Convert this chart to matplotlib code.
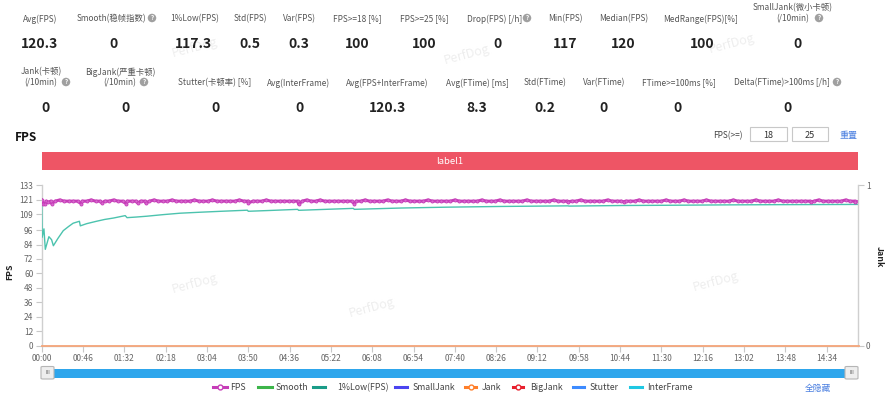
import numpy as np
import matplotlib
matplotlib.use('Agg')
import matplotlib.pyplot as plt
from matplotlib.patches import Rectangle, FancyBboxPatch
from matplotlib.lines import Line2D

plt.rcParams['font.family'] = ['Noto Sans CJK SC', 'DejaVu Sans']

# ---------------- data ----------------
row1_labels = ['Avg(FPS)', 'Smooth(稳帧指数)', '1%Low(FPS)', 'Std(FPS)', 'Var(FPS)',
               'FPS>=18 [%]', 'FPS>=25 [%]', 'Drop(FPS) [/h]', 'Min(FPS)', 'Median(FPS)',
               'MedRange(FPS)[%]', 'SmallJank(微小卡顿)\n(/10min)']
row1_values = ['120.3', '0', '117.3', '0.5', '0.3', '100', '100', '0', '117', '120', '100', '0']
row2_labels = ['Jank(卡顿)\n(/10min)', 'BigJank(严重卡顿)\n(/10min)', 'Stutter(卡顿率) [%]',
               'Avg(InterFrame)', 'Avg(FPS+InterFrame)', 'Avg(FTime) [ms]', 'Std(FTime)',
               'Var(FTime)', 'FTime>=100ms [%]', 'Delta(FTime)>100ms [/h]']
row2_values = ['0', '0', '0', '0', '120.3', '8.3', '0.2', '0', '0', '0']

# FPS base samples every 5 s (seconds)
fps_base_times = np.arange(0, 911, 5)
fps_base_values = [
    121, 120, 120, 120, 121, 120, 120, 120, 120, 120, 120, 121, 120, 120, 120, 120, 121, 120, 120, 120,
    120, 120, 120, 120, 120, 121, 120, 120, 120, 121, 120, 120, 120, 120, 121, 120, 120, 120, 121, 120,
    120, 120, 120, 120, 121, 120, 120, 120, 120, 120, 121, 120, 120, 120, 120, 120, 120, 120, 120, 121,
    120, 120, 121, 120, 120, 120, 120, 120, 120, 120, 120, 120, 121, 120, 120, 120, 120, 121, 120, 120,
    120, 121, 120, 120, 120, 120, 121, 120, 120, 120, 120, 120, 121, 120, 120, 120, 120, 120, 121, 120,
    120, 120, 121, 120, 120, 120, 120, 120, 121, 120, 120, 120, 120, 120, 121, 120, 120, 120, 120, 120,
    121, 120, 120, 120, 120, 120, 121, 120, 120, 120, 120, 120, 120, 121, 120, 120, 120, 120, 120, 121,
    120, 120, 120, 121, 120, 120, 120, 120, 121, 120, 120, 120, 120, 120, 121, 120, 120, 120, 120, 121,
    120, 120, 120, 120, 121, 120, 120, 120, 120, 120, 120, 120, 120, 121, 120, 120, 120, 120, 120, 121,
    120, 120, 120,
]
# short FPS dips (seconds, fps)
fps_dip_times = [2, 4, 7, 11, 44, 67, 94, 107, 116, 230, 286, 348, 586, 648, 857, 906]
fps_dip_values = [117.5, 118, 119, 118, 118, 118.5, 118, 118.5, 118.5, 118.5, 117.5, 118,
                  119.5, 119.5, 119.5, 119]

low_times = [0, 0.5, 2.5, 4, 8, 11, 13, 18, 24, 30, 35, 42, 43, 50, 61, 70, 80, 93, 95, 105,
             117, 135, 154, 176, 200, 229, 230, 255, 285, 286, 320, 347, 348, 400, 450, 511,
             586, 587, 648, 700, 760, 820, 870, 910]
low_values = [120.5, 90, 97, 80, 90.5, 88, 83, 89, 95.5, 99, 101.7, 103.3, 99.5, 101.3, 103.3, 104.8,
              106, 108, 106.3, 106.8, 107.5, 108.8, 110, 110.8, 111.6, 112.5, 111.6, 112.3, 113.2,
              112.4, 113.3, 114, 113.2, 114.3, 115, 115.6, 116.1, 115.9, 116.4, 116.6, 116.9,
              117.1, 117.2, 117.3]

jank_times = [0, 910]
jank_values = [0, 0]

y_ticks = [0, 12, 24, 36, 48, 60, 72, 84, 96, 109, 121, 133]
x_ticks = [0, 46, 92, 138, 184, 230, 276, 322, 368, 414, 460, 506, 552, 598, 644, 690, 736,
           782, 828, 874]
x_labels = ['00:00', '00:46', '01:32', '02:18', '03:04', '03:50', '04:36', '05:22', '06:08',
            '06:54', '07:40', '08:26', '09:12', '09:58', '10:44', '11:30', '12:16', '13:02',
            '13:48', '14:34']

legend_names = ['FPS', 'Smooth', '1%Low(FPS)', 'SmallJank', 'Jank', 'BigJank', 'Stutter', 'InterFrame']
legend_colors = ['#C63DB8', '#3DB54A', '#1A9C88', '#4B44F0', '#FF7F2A', '#E8212E', '#3D8BFF', '#1FC8E3']
legend_marker = [True, False, False, False, True, True, False, False]

# combine base samples with dips into one time-ordered FPS series
_all_t = np.concatenate([fps_base_times, fps_dip_times])
_all_v = np.concatenate([fps_base_values, fps_dip_values])
_order = np.argsort(_all_t, kind='stable')
fps_times = _all_t[_order]
fps_values = _all_v[_order]

# ---------------- figure ----------------
W, H = 890, 394
fig = plt.figure(figsize=(W / 100, H / 100), dpi=100)


def P(x, y):
    return (x / W, 1 - y / H)


def ftext(x, y, s, **kw):
    return fig.text(x / W, 1 - y / H, s, **kw)


def qmark(x, y):
    ftext(x, y, '?', ha='center', va='center', color='white', fontsize=4.5, fontweight='bold',
          bbox=dict(boxstyle='circle,pad=0.12', fc='#a0a0a0', ec='none'))


LBL = '#555555'
VAL = '#222222'
CB = 'center_baseline'
LFS = 6.0

# header row 1
r1_lx = [40, 111.5, 195, 250, 299, 357, 424, 495, 565, 624, 701, 793]
r1_vx = [40, 114, 193, 250, 299, 357, 424, 498, 565, 623, 702, 797]
for lab, lx in zip(row1_labels, r1_lx):
    lines = lab.split('\n')
    if len(lines) == 1:
        ftext(lx, 18, lines[0], ha='center', va=CB, fontsize=LFS, color=LBL)
    else:
        ftext(lx, 7, lines[0], ha='center', va=CB, fontsize=LFS, color=LBL)
        ftext(lx, 18, lines[1], ha='center', va=CB, fontsize=LFS, color=LBL)
for v, vx in zip(row1_values, r1_vx):
    ftext(vx, 42, v, ha='center', va=CB, fontsize=10, fontweight='bold', color=VAL)
qmark(152, 18)
qmark(527, 18)
qmark(819, 18)

# header row 2
r2_lx = [41, 120, 215, 299, 387, 477, 545, 604, 679, 782]
r2_vx = [45, 125, 216, 299, 388, 477, 545, 603, 678, 787]
for lab, lx in zip(row2_labels, r2_lx):
    lines = lab.split('\n')
    if len(lines) == 1:
        ftext(lx, 82, lines[0], ha='center', va=CB, fontsize=LFS, color=LBL)
    else:
        ftext(lx, 71, lines[0], ha='center', va=CB, fontsize=LFS, color=LBL)
        ftext(lx, 82, lines[1], ha='center', va=CB, fontsize=LFS, color=LBL)
for v, vx in zip(row2_values, r2_vx):
    ftext(vx, 106, v, ha='center', va=CB, fontsize=10, fontweight='bold', color=VAL)
qmark(66, 82)
qmark(144, 82)
qmark(837, 82)

# watermarks
for (wx, wy) in [(195, 48), (467, 55), (732, 44), (195, 284), (372, 308), (716, 282)]:
    ftext(wx, wy, 'PerfDog', ha='center', va='center', fontsize=9, color='#eeeeee',
          rotation=15, zorder=-5)

# section title and FPS thresholds
ftext(15, 136, 'FPS', ha='left', va=CB, fontsize=8.5, fontweight='bold', color='#111')
ftext(728, 135, 'FPS(>=)', ha='center', va=CB, fontsize=LFS, color='#444')
for (bx0, bx1, s) in [(750, 787, '18'), (792, 828, '25')]:
    fig.patches.append(Rectangle(P(bx0, 141), (bx1 - bx0) / W, 14 / H, transform=fig.transFigure,
                                 fc='white', ec='#c8c8c8', lw=0.8))
    ftext((bx0 + bx1) / 2, 134.5, s, ha='center', va=CB, fontsize=6.5, color='#333')
ftext(849, 134.5, '重置', ha='center', va=CB, fontsize=6.5, color='#4A7FE0')

# red label bar
fig.patches.append(Rectangle(P(41.7, 170), 816 / W, 18 / H, transform=fig.transFigure,
                             fc='#EE5565', ec='none'))
ftext(450, 161, 'label1', ha='center', va=CB, fontsize=6.8, color='white')

# ---------------- chart ----------------
ax = fig.add_axes([41.7 / W, 1 - 345.7 / H, 816 / W, 160.2 / H])
ax.set_facecolor('none')
ax.set_xlim(0, 908.5)
ax.set_ylim(0, 133)
ax.plot(low_times, low_values, color='#4CC3AE', lw=1.0, zorder=3)
ax.plot(fps_times, fps_values, color='#C63DB8', lw=2.2, marker='o', ms=2.2,
        mec='#C63DB8', mfc='#D86BCE', mew=0.6, zorder=4)
ax.set_yticks(y_ticks)
ax.set_yticklabels([str(v) for v in y_ticks])
ax.set_xticks(x_ticks)
ax.set_xticklabels(x_labels)
ax.tick_params(axis='both', length=4, width=0.8, color='#c8c8c8', labelcolor='#666',
               labelsize=6, pad=2)
for s in ['top', 'right']:
    ax.spines[s].set_visible(False)
for s in ['left', 'bottom']:
    ax.spines[s].set_color('#cfcfcf')
    ax.spines[s].set_linewidth(1.0)

ax2 = ax.twinx()
ax2.set_ylim(0, 1)
ax2.set_yticks([0, 1])
ax2.set_yticklabels(['0', '1'])
ax2.plot(jank_times, jank_values, color='#F4A57A', lw=1.3, clip_on=False, zorder=5)
ax2.tick_params(axis='y', length=4, width=0.8, color='#c8c8c8', labelcolor='#666',
                labelsize=6, pad=2)
for s in ['top', 'left', 'bottom']:
    ax2.spines[s].set_visible(False)
ax2.spines['right'].set_color('#cfcfcf')
ax2.spines['right'].set_linewidth(1.0)

ftext(10, 272, 'FPS', ha='center', va='center', rotation=90, fontsize=6.3,
      fontweight='bold', color='#222')
ftext(879, 257, 'Jank', ha='center', va='center', rotation=-90, fontsize=6.3,
      fontweight='bold', color='#222')

# ---------------- slider ----------------
fig.patches.append(FancyBboxPatch(P(52, 377.5), (848 - 52) / W, 8.5 / H,
                                  boxstyle='square,pad=0', transform=fig.transFigure,
                                  fc='#2EA6EC', ec='none'))
for hx0 in [41, 845]:
    fig.patches.append(FancyBboxPatch(P(hx0, 379), 13 / W, 12.5 / H,
                                      boxstyle='round,pad=0,rounding_size=0.002',
                                      transform=fig.transFigure, fc='#eeeeee', ec='#b5b5b5', lw=0.8))
    ftext(hx0 + 6.5, 372.7, 'III', ha='center', va='center', fontsize=4, color='#666')

# ---------------- legend ----------------
leg_line = [(213, 227), (258, 272), (313, 325), (395, 407), (465, 476), (513, 523), (573, 584), (630, 642)]
leg_text = [230, 276, 337, 413, 482, 530, 590, 647]
ly = 387
for name, col, mk, (x0, x1), tx in zip(legend_names, legend_colors, legend_marker, leg_line, leg_text):
    l = Line2D([x0 / W, x1 / W], [1 - ly / H, 1 - ly / H], transform=fig.transFigure,
               color=col, lw=2.2)
    fig.lines.append(l)
    if mk:
        m = Line2D([(x0 + x1) / 2 / W], [1 - ly / H], transform=fig.transFigure, color=col,
                   marker='o', ms=3.5, mfc='white', mec=col, mew=1.0, lw=0)
        fig.lines.append(m)
    ftext(tx, ly, name, ha='left', va=CB, fontsize=6.3, color='#444')
ftext(818, ly, '全隐藏', ha='center', va=CB, fontsize=6.3, color='#4A7FE0')

fig.savefig('out.png', dpi=100)
